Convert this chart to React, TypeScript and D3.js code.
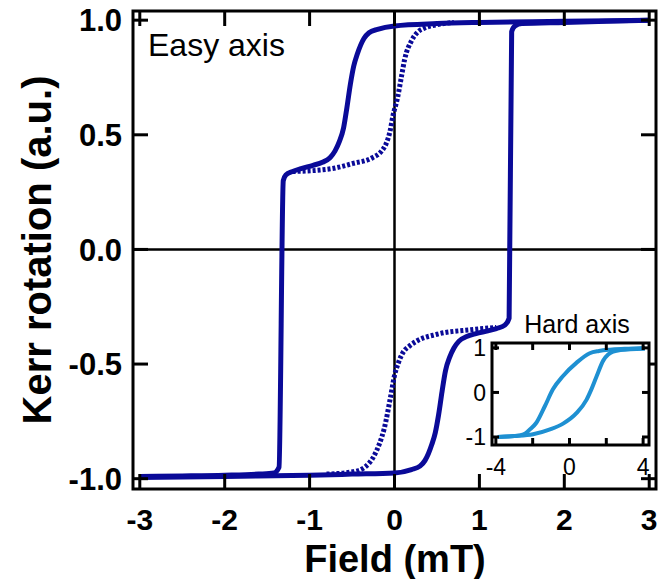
import React from "react";
import * as d3 from "d3";

// ---- Main (easy axis) data ----
const easyDownField = [-3, -2.5, -2, -1.6, -1.42, -1.36, -1.31, -1.28, -1.2, -1.1, -0.96, -0.85, -0.76, -0.7, -0.65, -0.6, -0.56, -0.52, -0.48, -0.44, -0.4, -0.36, -0.3, -0.2, 0, 0.5, 1, 2, 3];
const easyDownKerr = [-0.99, -0.988, -0.985, -0.98, -0.975, -0.95, 0.3, 0.325, 0.34, 0.352, 0.367, 0.38, 0.4, 0.43, 0.47, 0.53, 0.62, 0.72, 0.8, 0.85, 0.89, 0.92, 0.945, 0.96, 0.975, 0.985, 0.99, 0.995, 1.0];

const easyUpField = [-3, -2, -1, -0.5, 0, 0.2, 0.3, 0.36, 0.4, 0.44, 0.48, 0.52, 0.56, 0.6, 0.65, 0.7, 0.76, 0.85, 0.96, 1.1, 1.2, 1.3, 1.35, 1.38, 1.42, 1.5, 2, 2.5, 3];
const easyUpKerr = [-0.995, -0.99, -0.985, -0.98, -0.975, -0.96, -0.945, -0.92, -0.89, -0.85, -0.8, -0.72, -0.62, -0.53, -0.47, -0.43, -0.4, -0.38, -0.367, -0.355, -0.345, -0.33, -0.3, 0.95, 0.975, 0.985, 0.99, 0.995, 1.0];

// minor loop (dotted)
const minorUpField = [-1.2, -0.92, -0.73, -0.49, -0.26, -0.15, -0.1, -0.05, -0.02, 0.035, 0.08, 0.12, 0.2, 0.28, 0.35, 0.5, 0.7];
const minorUpKerr = [0.34, 0.345, 0.353, 0.375, 0.4, 0.43, 0.46, 0.52, 0.58, 0.66, 0.75, 0.83, 0.91, 0.95, 0.965, 0.98, 0.99];

const minorDownField = [-0.8, -0.49, -0.35, -0.24, -0.18, -0.12, -0.05, 0, 0.05, 0.1, 0.18, 0.26, 0.5, 0.9, 1.2];
const minorDownKerr = [-0.98, -0.97, -0.95, -0.9, -0.85, -0.78, -0.65, -0.55, -0.49, -0.45, -0.42, -0.4, -0.37, -0.35, -0.34];

// ---- Inset (hard axis) data ----
const hardLeftField = [-3.9, -3, -2.5, -2.3, -2.15, -1.8, -1.34, -0.9, -0.35, 0.39, 1.1, 1.6, 2.2, 3, 4.1];
const hardLeftKerr = [-1.0, -0.98, -0.94, -0.89, -0.83, -0.68, -0.31, 0.07, 0.37, 0.67, 0.88, 0.93, 0.96, 0.98, 1.0];
const hardRightField = [-3.9, -3, -1.98, -1.06, -0.35, 0.39, 0.93, 1.2, 1.48, 1.84, 2.1, 2.38, 3.3, 4.1];
const hardRightKerr = [-1.0, -0.98, -0.94, -0.83, -0.7, -0.46, -0.16, 0.08, 0.37, 0.72, 0.85, 0.92, 0.97, 0.98];

// ---- Ticks ----
const xTicks = [-3, -2, -1, 0, 1, 2, 3];
const yTicks = [-1.0, -0.5, 0.0, 0.5, 1.0];
const insetXTicks = [-4, -2, 0, 2, 4];
const insetXLabels = [-4, 0, 4];
const insetYTicks = [-1, 0, 1];

const zip = (xs: number[], ys: number[]) => xs.map((x, i) => [x, ys[i]] as [number, number]);

export default function App() {
  const W = 667, H = 579;
  const L = 133, R = 656, T = 11, B = 489;
  const x = d3.scaleLinear().domain([-3.08, 3.08]).range([L, R]);
  const y = d3.scaleLinear().domain([-1.045, 1.04]).range([B, T]);

  const iL = 492, iR = 649, iT = 343, iB = 445;
  const ix = d3.scaleLinear().domain([-4.21, 4.32]).range([iL, iR]);
  const iy = d3.scaleLinear().domain([-1.18, 1.11]).range([iB, iT]);

  const line = d3.line<[number, number]>().x(d => x(d[0])).y(d => y(d[1])).curve(d3.curveMonotoneX);
  const iline = d3.line<[number, number]>().x(d => ix(d[0])).y(d => iy(d[1])).curve(d3.curveMonotoneX);

  const navy = "#0a0a98";
  const blue = "#1e90d2";
  const font = "'Liberation Sans', Arial, Helvetica, sans-serif";
  const tl = 15;
  const itl = 7;

  return (
    <svg width={W} height={H} style={{ position: "absolute", left: 0, top: 0, background: "#fff" }} fontFamily={font}>
      {/* zero lines */}
      <line x1={L} x2={R} y1={y(0)} y2={y(0)} stroke="#000" strokeWidth={2.5} />
      <line x1={x(0)} x2={x(0)} y1={T} y2={B} stroke="#000" strokeWidth={2.5} />

      {/* curves */}
      <path d={line(zip(minorUpField, minorUpKerr)) || ""} fill="none" stroke={navy} strokeWidth={5} strokeDasharray="3 2" />
      <path d={line(zip(minorDownField, minorDownKerr)) || ""} fill="none" stroke={navy} strokeWidth={5} strokeDasharray="3 2" />
      <path d={line(zip(easyDownField, easyDownKerr)) || ""} fill="none" stroke={navy} strokeWidth={5} strokeLinejoin="round" />
      <path d={line(zip(easyUpField, easyUpKerr)) || ""} fill="none" stroke={navy} strokeWidth={5} strokeLinejoin="round" />

      {/* main ticks */}
      {xTicks.map(t => (
        <g key={"xt" + t}>
          <line x1={x(t)} x2={x(t)} y1={B} y2={B - tl} stroke="#000" strokeWidth={3} />
          <line x1={x(t)} x2={x(t)} y1={T} y2={T + tl} stroke="#000" strokeWidth={3} />
          <text x={x(t)} y={530} textAnchor="middle" fontSize={30} fontWeight="bold">{t}</text>
        </g>
      ))}
      {yTicks.map(t => (
        <g key={"yt" + t}>
          <line x1={L} x2={L + tl} y1={y(t)} y2={y(t)} stroke="#000" strokeWidth={3} />
          <line x1={R} x2={R - tl} y1={y(t)} y2={y(t)} stroke="#000" strokeWidth={3} />
          <text x={122} y={y(t)} dy="0.36em" textAnchor="end" fontSize={31} fontWeight="bold">{t.toFixed(1)}</text>
        </g>
      ))}
      <rect x={L} y={T} width={R - L} height={B - T} fill="none" stroke="#000" strokeWidth={3} />

      {/* labels */}
      <text x={395} y={572} textAnchor="middle" fontSize={38} fontWeight="bold">Field (mT)</text>
      <text transform={`translate(51,250) rotate(-90)`} textAnchor="middle" fontSize={40} fontWeight="bold">Kerr rotation (a.u.)</text>
      <text x={148} y={56} fontSize={32}>Easy axis</text>

      {/* inset */}
      <rect x={iL} y={iT} width={iR - iL} height={iB - iT} fill="#fff" />
      <path d={iline(zip(hardLeftField, hardLeftKerr)) || ""} fill="none" stroke={blue} strokeWidth={4} />
      <path d={iline(zip(hardRightField, hardRightKerr)) || ""} fill="none" stroke={blue} strokeWidth={4} />
      {insetXTicks.map(t => (
        <g key={"ixt" + t}>
          <line x1={ix(t)} x2={ix(t)} y1={iB} y2={iB - itl} stroke="#000" strokeWidth={3} />
          <line x1={ix(t)} x2={ix(t)} y1={iT} y2={iT + itl} stroke="#000" strokeWidth={3} />
        </g>
      ))}
      {insetXLabels.map(t => (
        <text key={"ixl" + t} x={ix(t)} y={475} textAnchor="middle" fontSize={23}>{t}</text>
      ))}
      {insetYTicks.map(t => (
        <g key={"iyt" + t}>
          <line x1={iL} x2={iL + itl} y1={iy(t)} y2={iy(t)} stroke="#000" strokeWidth={3} />
          <line x1={iR} x2={iR - itl} y1={iy(t)} y2={iy(t)} stroke="#000" strokeWidth={3} />
          <text x={486} y={iy(t)} dy="0.36em" textAnchor="end" fontSize={23}>{t}</text>
        </g>
      ))}
      <rect x={iL} y={iT} width={iR - iL} height={iB - iT} fill="none" stroke="#000" strokeWidth={3} />
      <text x={577} y={333} textAnchor="middle" fontSize={25}>Hard axis</text>
    </svg>
  );
}
